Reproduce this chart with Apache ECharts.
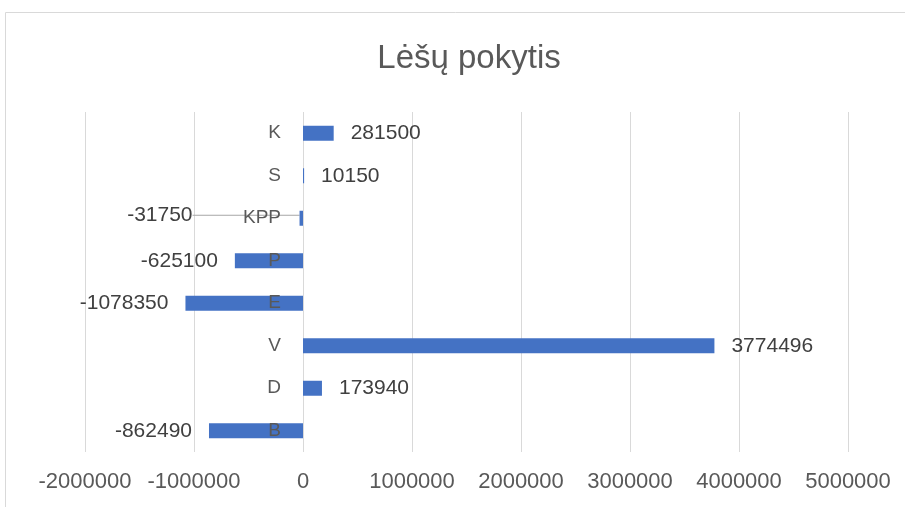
<!DOCTYPE html>
<html>
<head>
<meta charset="utf-8">
<script src="https://cdn.jsdelivr.net/npm/echarts@6/dist/echarts.min.js"></script>
<style>
  html, body { margin: 0; padding: 0; background: #fff; }
  #chart { width: 905px; height: 507px; }
</style>
</head>
<body>
<div id="chart"></div>
<script>
// categories bottom -> top (category axis starts at the bottom)
const categories = ['B', 'D', 'V', 'E', 'P', 'KPP', 'S', 'K']
const values = [-862490, 173940, 3774496, -1078350, -625100, -31750, 10150, 281500]
const xTicks = [-2000000, -1000000, 0, 1000000, 2000000, 3000000, 4000000, 5000000]

const chart = echarts.init(document.getElementById('chart'))

const gridLeft = 85
const gridRight = 57
const plotWidth = 905 - gridLeft - gridRight
// move the category labels to the zero line
const zeroOffset = -plotWidth * (0 - xTicks[0]) / (xTicks[xTicks.length - 1] - xTicks[0])

const seriesData = values.map((v, i) => {
  const item = {
    value: v,
    label: { position: v < 0 ? 'left' : 'right' }
  }
  if (categories[i] === 'KPP') {
    item.labelLine = { show: true }
  }
  return item
})

const option = {
  animation: false,
  textStyle: { fontFamily: 'Liberation Sans, Arial, sans-serif' },
  title: {
    text: 'Lėšų pokytis',
    left: 464,
    top: 37,
    textAlign: 'center',
    textStyle: {
      fontSize: 33,
      fontWeight: 'normal',
      color: '#595959',
      fontFamily: 'Liberation Sans, Arial, sans-serif'
    }
  },
  graphic: [
    {
      type: 'rect',
      shape: { x: 5.5, y: 12.5, width: 1000, height: 600 },
      style: { fill: 'none', stroke: '#d9d9d9', lineWidth: 1 },
      silent: true
    }
  ],
  grid: {
    left: gridLeft,
    right: gridRight,
    top: 112,
    bottom: 55,
    outerBoundsMode: 'none'
  },
  xAxis: {
    type: 'value',
    min: xTicks[0],
    max: xTicks[xTicks.length - 1],
    interval: 1000000,
    axisLine: { show: false },
    axisTick: { show: false },
    splitLine: { lineStyle: { color: '#d9d9d9', width: 1 } },
    axisLabel: {
      color: '#595959',
      fontSize: 22,
      margin: 19,
      formatter: v => String(v)
    }
  },
  yAxis: {
    type: 'category',
    data: categories,
    z: 5,
    offset: zeroOffset,
    axisLine: { show: false, onZero: false },
    axisTick: { show: false },
    splitLine: { show: false },
    axisLabel: { color: '#595959', fontSize: 19, margin: 22 }
  },
  series: [
    {
      type: 'bar',
      data: seriesData,
      barWidth: 15,
      itemStyle: { color: '#4472C4' },
      label: {
        show: true,
        color: '#404040',
        fontSize: 21,
        distance: 17
      },
      labelLine: {
        show: false,
        lineStyle: { color: '#a6a6a6', width: 1 }
      },
      labelLayout: function (params) {
        if (categories[params.dataIndex] === 'KPP') {
          return { dx: -90, dy: -3 }
        }
        return {}
      }
    }
  ]
}

chart.setOption(option)
</script>
</body>
</html>
